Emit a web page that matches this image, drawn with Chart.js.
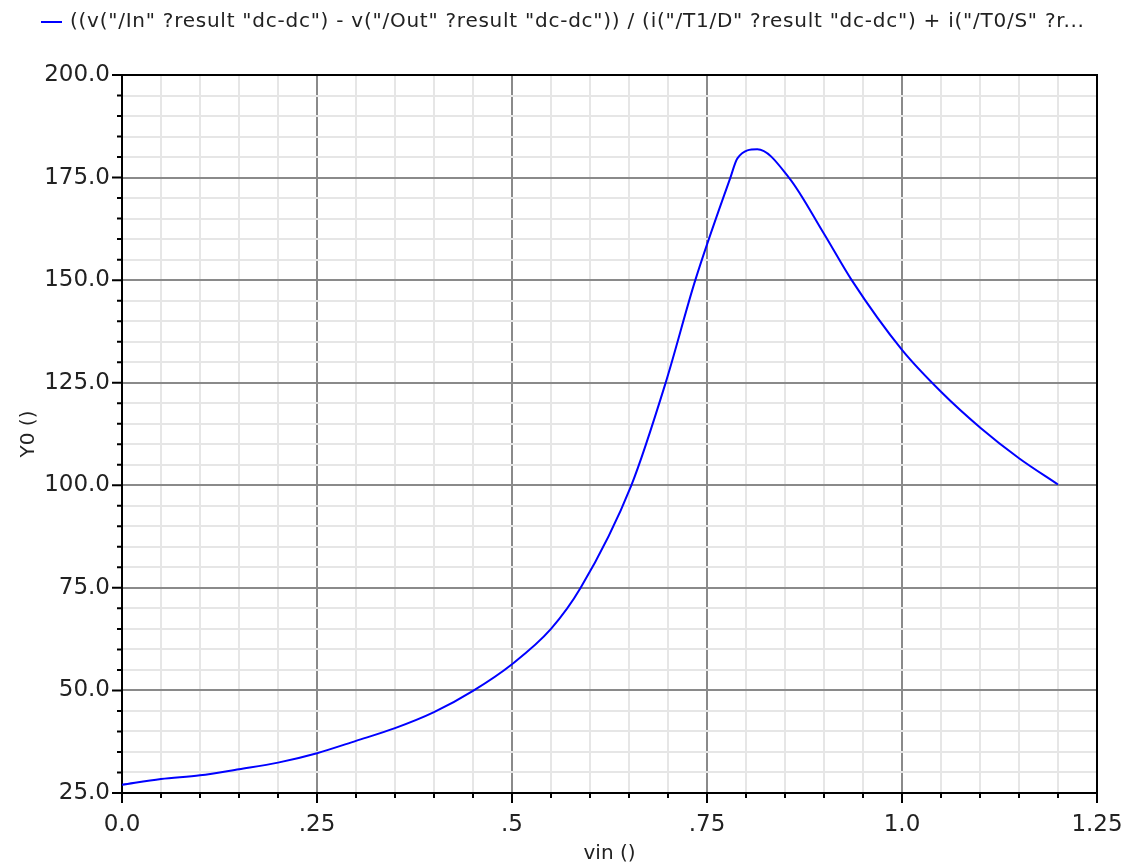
<!DOCTYPE html>
<html>
<head>
<meta charset="utf-8">
<script src="https://cdn.jsdelivr.net/npm/chart.js@4.4.0/dist/chart.umd.min.js"></script>
<style>
  html, body { margin: 0; padding: 0; background: #fff; }
  #wrap { width: 1123px; height: 864px; }
</style>
</head>
<body>
<div id="wrap"><canvas id="chartLine"></canvas></div>
<script>
// values
const seriesLabel = '((v("/In" ?result "dc-dc") - v("/Out" ?result "dc-dc")) / (i("/T1/D" ?result "dc-dc") + i("/T0/S" ?r...';
const vin = [0, 0.05, 0.1, 0.15, 0.2, 0.25, 0.3, 0.35, 0.4, 0.45, 0.5, 0.55, 0.588, 0.653, 0.697, 0.735, 0.78, 0.789, 0.8145, 0.855, 0.9, 0.9355, 1.0, 1.05, 1.1, 1.15, 1.2];
const y0 = [27.0, 28.4, 29.3, 30.8, 32.4, 34.7, 37.7, 40.8, 44.7, 49.9, 56.4, 65.0, 75.0, 100.0, 125.0, 150.0, 175.0, 179.7, 181.9, 175.0, 161.3, 150.0, 133.0, 122.8, 114.1, 106.6, 100.2];
const xTickLabels = ['0.0', '.25', '.5', '.75', '1.0', '1.25'];
const yTickLabels = ['25.0', '50.0', '75.0', '100.0', '125.0', '150.0', '175.0', '200.0'];

const isMajor = (v, step) => Math.abs(v / step - Math.round(v / step)) < 1e-6;
const FONT = 'DejaVu Sans';

// outward tick marks on left and bottom axes, plus the top/right frame and the legend line
const frameAndTicks = {
  id: 'frameAndTicks',
  afterDraw(chart) {
    const { ctx, chartArea: a, scales } = chart;
    ctx.save();
    ctx.strokeStyle = '#000';
    ctx.lineWidth = 2;
    ctx.beginPath();
    ctx.moveTo(a.left, a.top);
    ctx.lineTo(a.right, a.top);
    ctx.lineTo(a.right, a.bottom);
    ctx.stroke();

    ctx.beginPath();
    scales.x.ticks.forEach(t => {
      const px = scales.x.getPixelForValue(t.value);
      const len = isMajor(t.value, 0.25) ? 10 : 5;
      ctx.moveTo(px, a.bottom);
      ctx.lineTo(px, a.bottom + len);
    });
    scales.y.ticks.forEach(t => {
      const py = scales.y.getPixelForValue(t.value);
      const len = isMajor(t.value, 25) ? 10 : 5;
      ctx.moveTo(a.left, py);
      ctx.lineTo(a.left - len, py);
    });
    ctx.stroke();

    // legend
    ctx.strokeStyle = '#0000ff';
    ctx.beginPath();
    ctx.moveTo(41, 22);
    ctx.lineTo(62, 22);
    ctx.stroke();
    ctx.fillStyle = '#222';
    ctx.font = '20px "' + FONT + '"';
    ctx.letterSpacing = '0.75px';
    ctx.textBaseline = 'alphabetic';
    ctx.fillText(chart.data.datasets[0].label, 70, 27);
    ctx.restore();
  }
};

const ctx = document.getElementById('chartLine').getContext('2d');
const chartLine = new Chart(ctx, {
  type: 'line',
  data: {
    datasets: [{
      label: seriesLabel,
      data: vin.map((x, i) => ({ x: x, y: y0[i] })),
      borderColor: '#0000ff',
      borderWidth: 2,
      pointRadius: 0,
      fill: false,
      cubicInterpolationMode: 'monotone'
    }]
  },
  options: {
    responsive: true,
    maintainAspectRatio: false,
    animation: false,
    layout: { padding: { top: 75, right: 0, left: 0, bottom: 0 } },
    plugins: { legend: { display: false }, tooltip: { enabled: false } },
    scales: {
      x: {
        type: 'linear',
        min: 0,
        max: 1.25,
        afterFit: s => { s.height = 71; s.paddingRight = 26; s.paddingLeft = 0; },
        ticks: {
          stepSize: 0.05,
          autoSkip: false,
          maxTicksLimit: 1000,
          maxRotation: 0,
          padding: 18,
          color: '#222',
          font: { family: FONT, size: 23 },
          callback: v => isMajor(v, 0.25) ? xTickLabels[Math.round(v / 0.25)] : ''
        },
        grid: {
          drawTicks: false,
          lineWidth: 2,
          color: c => isMajor(c.tick.value, 0.25) ? '#8a8a8a' : '#e6e6e6'
        },
        border: { display: true, color: '#000', width: 2 },
        title: {
          display: true,
          text: 'vin ()',
          color: '#222',
          font: { family: FONT, size: 20, lineHeight: 1 },
          padding: { top: 0, bottom: 0 }
        }
      },
      y: {
        type: 'linear',
        min: 25,
        max: 200,
        afterFit: s => { s.width = 122; },
        ticks: {
          stepSize: 5,
          autoSkip: false,
          maxTicksLimit: 1000,
          padding: 12,
          color: '#222',
          font: { family: FONT, size: 23 },
          callback: v => isMajor(v, 25) ? yTickLabels[Math.round((v - 25) / 25)] : ''
        },
        grid: {
          drawTicks: false,
          lineWidth: 2,
          color: c => isMajor(c.tick.value, 25) ? '#8a8a8a' : '#e6e6e6'
        },
        border: { display: true, color: '#000', width: 2 },
        title: {
          display: true,
          text: 'Y0 ()',
          color: '#222',
          font: { family: FONT, size: 20 },
          padding: { top: 17, bottom: 0 }
        }
      }
    }
  },
  plugins: [frameAndTicks]
});
</script>
</body>
</html>
